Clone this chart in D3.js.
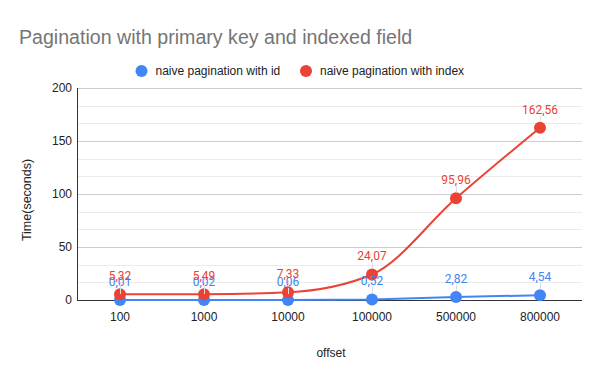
<!DOCTYPE html>
<html>
<head>
<meta charset="UTF-8">
<style>
    body { margin: 0; background: #fff; }
    text { font-family: "Liberation Sans", Arial, sans-serif; }
    text.lbl { font-family: Roboto, Arial, sans-serif; }
</style>
</head>
<body>
<div id="chart"></div>
<script src="https://d3js.org/d3.v7.min.js"></script>
<script>
    // offsets and timings
    var offsets = ["100", "1000", "10000", "100000", "500000", "800000"];
    var withId = [0.01, 0.02, 0.06, 0.52, 2.82, 4.54];
    var withIndex = [5.32, 5.49, 7.33, 24.07, 95.96, 162.56];
    var seriesNames = ["naive pagination with id", "naive pagination with index"];
    var yTicks = [0, 50, 100, 150, 200];

    var width = 600, height = 371;
    var blue = "#4285f4", red = "#ea4335";

    var svg = d3.select("#chart").append("svg")
        .attr("width", width)
        .attr("height", height);

    var x = d3.scaleBand().domain(offsets).range([78, 582]);
    var y = d3.scaleLinear().domain([0, 200]).range([300, 88]);

    // title
    svg.append("text")
        .attr("x", 19).attr("y", 44)
        .attr("font-size", 19.6)
        .attr("fill", "#757575")
        .text("Pagination with primary key and indexed field");

    // legend
    var legend = svg.append("g");
    var legX = [141.5, 306];
    [blue, red].forEach(function (c, i) {
        legend.append("circle")
            .attr("cx", legX[i]).attr("cy", 71).attr("r", 6)
            .attr("fill", c);
        legend.append("text")
            .attr("x", legX[i] + 14).attr("y", 75)
            .attr("font-size", 12)
            .attr("fill", "#222")
            .text(seriesNames[i]);
    });

    // gridlines: minor every 50/3, major every 50
    var minor = d3.range(0, 13).map(function (i) { return i * 200 / 12; });
    svg.append("g").selectAll("line")
        .data(minor).enter().append("line")
        .attr("x1", 78).attr("x2", 582)
        .attr("y1", function (d) { return Math.round(y(d)) + 0.5; })
        .attr("y2", function (d) { return Math.round(y(d)) + 0.5; })
        .attr("stroke", function (d, i) { return i % 3 === 0 ? "#cccccc" : "#ebebeb"; })
        .attr("stroke-width", 1);

    // y axis labels
    svg.append("g").selectAll("text")
        .data(yTicks).enter().append("text")
        .attr("x", 72)
        .attr("y", function (d) { return y(d) + 4; })
        .attr("text-anchor", "end")
        .attr("font-size", 12)
        .attr("fill", "#222")
        .text(function (d) { return d; });

    // axis lines
    svg.append("line")
        .attr("x1", 77.5).attr("x2", 77.5).attr("y1", 88).attr("y2", 300)
        .attr("stroke", "#333");
    svg.append("line")
        .attr("x1", 77).attr("x2", 582).attr("y1", 300.5).attr("y2", 300.5)
        .attr("stroke", "#333");

    // x labels
    svg.append("g").selectAll("text")
        .data(offsets).enter().append("text")
        .attr("x", function (d) { return x(d) + x.bandwidth() / 2; })
        .attr("y", 321)
        .attr("text-anchor", "middle")
        .attr("font-size", 12)
        .attr("fill", "#222")
        .text(function (d) { return d; });

    // axis titles
    svg.append("text")
        .attr("x", 331).attr("y", 357)
        .attr("text-anchor", "middle")
        .attr("font-size", 12)
        .attr("fill", "#222")
        .text("offset");
    svg.append("text")
        .attr("transform", "translate(31,200) rotate(-90)")
        .attr("text-anchor", "middle")
        .attr("font-size", 12.5)
        .attr("fill", "#222")
        .text("Time(seconds)");

    function cx(i) { return x(offsets[i]) + x.bandwidth() / 2; }

    var series = [
        { values: withId, color: blue, curve: d3.curveLinear },
        { values: withIndex, color: red, curve: d3.curveMonotoneX }
    ];

    series.forEach(function (s) {
        var line = d3.line()
            .x(function (d, i) { return cx(i); })
            .y(function (d) { return y(d); })
            .curve(s.curve);
        svg.append("path")
            .datum(s.values)
            .attr("d", line)
            .attr("fill", "none")
            .attr("stroke", s.color)
            .attr("stroke-width", 2);
        svg.append("g").selectAll("circle")
            .data(s.values).enter().append("circle")
            .attr("cx", function (d, i) { return cx(i); })
            .attr("cy", function (d) { return y(d); })
            .attr("r", 6)
            .attr("fill", s.color);
    });

    // data labels with small stems (they overlap near zero, as in the original)
    series.forEach(function (s) {
        var g = svg.append("g");
        s.values.forEach(function (v, i) {
            g.append("line")
                .attr("x1", cx(i) + 0.5).attr("x2", cx(i) + 0.5)
                .attr("y1", y(v) - 6).attr("y2", y(v) - 12)
                .attr("stroke", "#ddd");
            g.append("text")
                .attr("class", "lbl")
                .attr("x", cx(i))
                .attr("y", y(v) - 14)
                .attr("text-anchor", "middle")
                .attr("font-size", 12)
                .attr("fill", s.color)
                .text(String(v.toFixed(2)).replace(".", ","));
        });
    });
</script>
</body>
</html>
